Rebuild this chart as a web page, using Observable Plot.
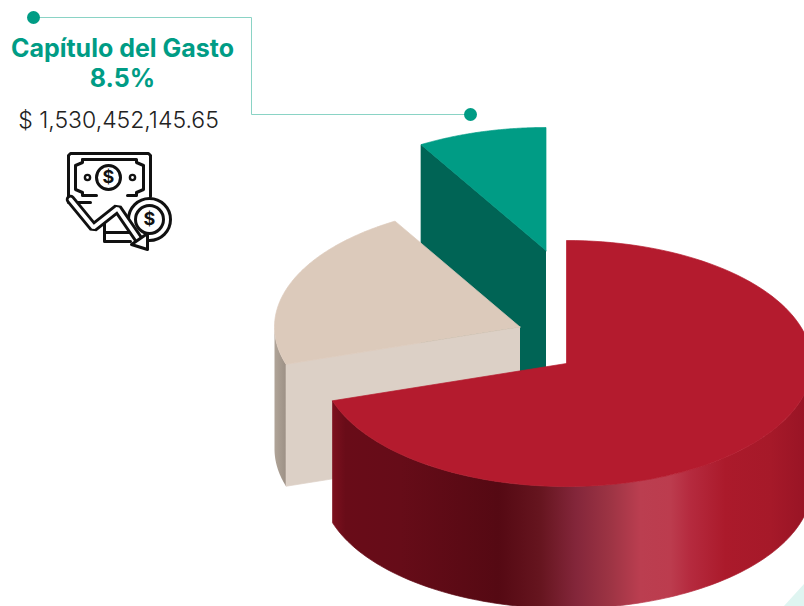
<!DOCTYPE html>
<html lang="es">
<head>
<meta charset="utf-8">
<style>html,body{margin:0;padding:0;background:#fff;overflow:hidden}svg{display:block}</style>
<script src="https://cdn.jsdelivr.net/npm/d3@7"></script>
<script src="https://cdn.jsdelivr.net/npm/@observablehq/plot@0.6"></script>
</head>
<body>
<script>
// Data
const sliceNames = ["Rojo", "Beige", "Capítulo del Gasto"];
const sliceShares = [70.1, 21.4, 8.5];
const titleLines = ["Capítulo del Gasto", "8.5%"];
const amountLabel = "$ 1,530,452,145.65";

// Pie geometry
const W = 804, H = 606;
const C = {x: 566, y: 363}, RX = 245.5, RY = 123, DEPTH = 122;
const offsets = [[0, 0], [-46.5, -36.5], [-20.5, -113]];
const deg = Math.PI / 180;
const turns = d3.cumsum(sliceShares).map((v) => v * 3.6);
const bounds = sliceNames.map((_, i) => [i ? turns[i - 1] : 0, turns[i]]);

const pt = (i, t, down = 0) => ({
  x: C.x + offsets[i][0] + RX * Math.sin(t * deg),
  y: C.y + offsets[i][1] - RY * Math.cos(t * deg) + down
});
const apex = (i, down = 0) => ({x: C.x + offsets[i][0], y: C.y + offsets[i][1] + down});
const arc = (i, a, b, down = 0) => d3.range(0, 121).map((k) => pt(i, a + (b - a) * k / 120, down));
const wedge = (i) => [apex(i), ...arc(i, bounds[i][0], bounds[i][1]), apex(i)];
const rim = (i, a, b) => [...arc(i, a, b), ...arc(i, b, a, DEPTH)];
const cut = (i, t) => [apex(i), pt(i, t), pt(i, t, DEPTH), apex(i, DEPTH)];
// the green wall runs level behind the beige slice, so its foot is flat
const flatCut = (i, t) => [apex(i), pt(i, t), {x: pt(i, t).x, y: apex(i, DEPTH).y}, apex(i, DEPTH)];
const shape = (pts, fill, seam) => Plot.line(pts, {x: "x", y: "y", fill, stroke: seam ? fill : "none", strokeWidth: 0.7});

// Red rim shading
const redStops = [
  [332, "#7c101e"], [345, "#690c18"], [400, "#660c18"], [498, "#550913"], [540, "#66151f"],
  [575, "#83263a"], [610, "#9d3444"], [640, "#bb3e50"], [670, "#bc3c4e"], [690, "#b52a3e"],
  [725, "#ab1a2b"], [770, "#a61929"], [804, "#991425"]
];
const beigeStops = [[272, "#b3a79b"], [286, "#9c9085"]];
function gradient(id, stops) {
  const g = d3.create("svg:linearGradient").attr("id", id)
    .attr("gradientUnits", "userSpaceOnUse")
    .attr("x1", stops[0][0]).attr("x2", stops[stops.length - 1][0]).attr("y1", 0).attr("y2", 0);
  const a = stops[0][0], b = stops[stops.length - 1][0];
  stops.forEach(([x, c]) => g.append("stop").attr("offset", (x - a) / (b - a)).attr("stop-color", c));
  return g.node();
}
const defsMark = () => {
  const d = d3.create("svg:defs");
  d.append(() => gradient("redRim", redStops));
  d.append(() => gradient("beigeRim", beigeStops));
  return d.node();
};

// Leader line and decoration
const leader = [{x: 33, y: 17}, {x: 251, y: 17}, {x: 251, y: 114}, {x: 470, y: 114}];
const leaderEnds = [leader[0], leader[3]];
const mint = [{x: 783, y: 606}, {x: 804, y: 583}, {x: 804, y: 606}];

// Icon parts
const ink = "#111";
const iconOutline = [
  [[90, 202], [68, 202], [68, 155], [70, 153], [148, 153], [150, 155], [150, 196]],
  [[82, 159], [136, 159], [136, 162], [143, 165], [143, 189], [136, 192], [136, 195], [127, 195]],
  [[82, 159], [82, 162], [75, 165], [75, 189], [82, 192], [82, 195], [96, 195]],
  [[104, 223], [104, 241], [130, 241]],
  [[104, 232], [130, 232]]
].map((p) => p.map(([x, y]) => ({x, y})));
const arrowPath = [{x: 70, y: 199}, {x: 93, y: 227}, {x: 117, y: 208}, {x: 141, y: 243}];
const arrowHead = [{x: 131, y: 244}, {x: 147, y: 249}, {x: 147, y: 233}, {x: 131, y: 244}];

const iconFont = "Inter, sans-serif";
const marks = [
  defsMark,
  shape(mint, "#dff5f1"),
  // Green slice
  shape(flatCut(2, bounds[2][0]), "#006455", true),
  shape(wedge(2), "#009c85", true),
  // Beige slice
  shape(rim(1, bounds[1][0], 270), "url(#beigeRim)"),
  shape(cut(1, bounds[1][0]), "#dcd0c6", true),
  shape(wedge(1), "#dccabb", true),
  // Red slice
  shape(rim(0, 90, bounds[0][1]), "url(#redRim)", true),
  shape(wedge(0), "#b41b2e", true),
  // Leader
  Plot.line(leader, {x: "x", y: "y", stroke: "#8ad3c5", strokeWidth: 1}),
  Plot.dot(leaderEnds, {x: "x", y: "y", r: 6.5, fill: "#009c85", stroke: "none"}),
  // Text
  Plot.text([titleLines[0]], {x: () => 122, y: () => 48, text: (d) => d, fontSize: 25, fontWeight: 700, fill: "#009c85", fontFamily: "Inter, sans-serif"}),
  Plot.text([titleLines[1]], {x: () => 122, y: () => 78, text: (d) => d, fontSize: 25, fontWeight: 700, fill: "#009c85", fontFamily: "Inter, sans-serif"}),
  Plot.text([amountLabel], {x: () => 118, y: () => 120, text: (d) => d, fontSize: 23, fontWeight: 300, fill: "#222", fontFamily: "Inter, sans-serif"}),
  // Icon
  ...iconOutline.map((p) => Plot.line(p, {x: "x", y: "y", stroke: ink, strokeWidth: 3, strokeLinejoin: "round", strokeLinecap: "round"})),
  Plot.dot([{x: 108, y: 177}], {x: "x", y: "y", r: 12, stroke: ink, strokeWidth: 3, fill: "#fff"}),
  Plot.dot([{x: 87, y: 177}, {x: 132, y: 177}], {x: "x", y: "y", r: 2.6, stroke: ink, strokeWidth: 2.4, fill: "#fff"}),
  Plot.text(["$"], {x: () => 108, y: () => 177, text: (d) => d, fontSize: 18, fontWeight: 700, fill: ink, fontFamily: iconFont}),
  Plot.dot([{x: 149, y: 219}], {x: "x", y: "y", r: 21, stroke: ink, strokeWidth: 3, fill: "#fff"}),
  Plot.dot([{x: 149, y: 219}], {x: "x", y: "y", r: 14, stroke: ink, strokeWidth: 3, fill: "#fff"}),
  Plot.text(["$"], {x: () => 149, y: () => 219, text: (d) => d, fontSize: 18, fontWeight: 700, fill: ink, fontFamily: iconFont}),
  Plot.line(arrowPath, {x: "x", y: "y", stroke: ink, strokeWidth: 9.5, strokeLinejoin: "miter"}),
  Plot.line(arrowPath, {x: "x", y: "y", stroke: "#fff", strokeWidth: 3.8, strokeLinejoin: "miter"}),
  shape(arrowHead, "#fff"),
  Plot.line(arrowHead, {x: "x", y: "y", stroke: ink, strokeWidth: 3, strokeLinejoin: "round"})
];

document.body.append(Plot.plot({
  width: W, height: H, margin: 0,
  x: {domain: [0, W], range: [0, W], axis: null},
  y: {domain: [0, H], range: [0, H], axis: null},
  style: {background: "#fff", overflow: "hidden"},
  marks
}));
</script>
</body>
</html>
